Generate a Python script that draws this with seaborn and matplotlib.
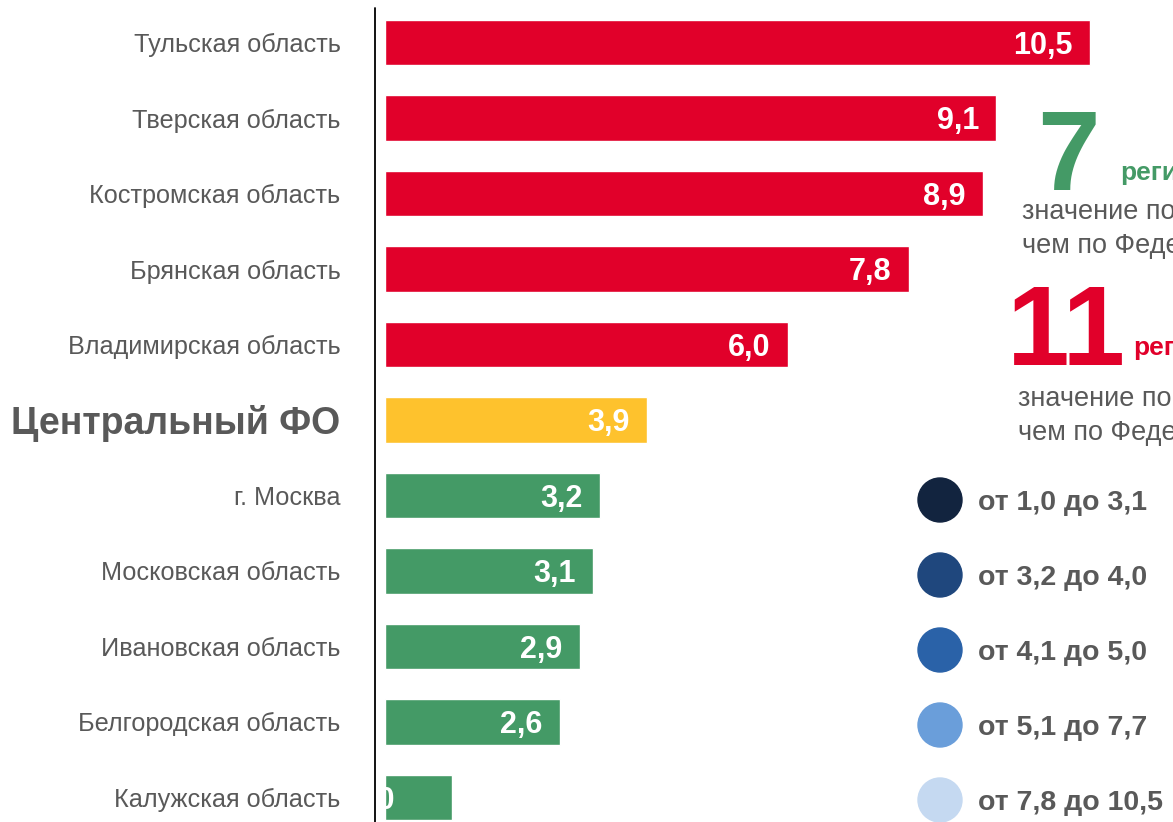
import matplotlib.pyplot as plt
import matplotlib.transforms as mtransforms
from matplotlib.lines import Line2D
from matplotlib.patches import Ellipse
import seaborn as sns
import pandas as pd

# ---- данные ----
regions = ["Тульская область", "Тверская область", "Костромская область",
           "Брянская область", "Владимирская область", "Центральный ФО",
           "г. Москва", "Московская область", "Ивановская область",
           "Белгородская область", "Калужская область"]
values = [10.5, 9.1, 8.9, 7.8, 6.0, 3.9, 3.2, 3.1, 2.9, 2.6, 1.0]
district = "Центральный ФО"

# число регионов ниже / выше значения по ФО (по всем регионам округа)
n_below = 7
n_above = 11

legend_labels = ["от 1,0 до 3,1", "от 3,2 до 4,0", "от 4,1 до 5,0",
                 "от 5,1 до 7,7", "от 7,8 до 10,5"]
legend_colors = ["#12243F", "#1F477D", "#2A62A8", "#6A9EDA", "#C5D9F1"]

RED, YELLOW, GREEN, GREY = "#E1002A", "#FEC22D", "#449A66", "#595959"

df = pd.DataFrame({"region": regions, "value": values})
cfo_val = df.loc[df.region == district, "value"].iloc[0]
bar_colors = [YELLOW if r == district else (RED if v > cfo_val else GREEN)
              for r, v in zip(regions, values)]

# ---- рисунок ----
sns.set_theme(style="white")
plt.rcParams["font.family"] = ["Liberation Sans", "DejaVu Sans"]

W, H = 1173, 822
fig = plt.figure(figsize=(W / 100, H / 100), dpi=100)
ax = fig.add_axes([385 / W, 0, 1 - 385 / W, 1 - 8 / H])

sns.barplot(data=df, x="value", y="region", hue="region", palette=bar_colors,
            legend=False, width=0.6, saturation=1, ax=ax)

ax.set_xlim(0, (W - 385) / (705 / 10.5))
ax.set_ylim(10.325, -0.457)
ax.set_xlabel("")
ax.set_ylabel("")
ax.set_xticks([])
for s in ax.spines.values():
    s.set_visible(False)
ax.tick_params(axis="y", length=0, pad=32, labelsize=18.2, labelcolor=GREY)
for lbl in ax.get_yticklabels():
    if lbl.get_text() == district:
        lbl.set_fontweight("bold")
        lbl.set_fontsize(27)

# вертикальная линия оси
fig.add_artist(Line2D([375 / W, 375 / W], [0, 1 - 8 / H], color="black", lw=1.3))

# подписи значений
for i, v in enumerate(values):
    txt = f"{v:.1f}".replace(".", ",")
    if i == len(values) - 1:
        tr = mtransforms.offset_copy(ax.transData, fig=fig, x=10, y=0, units="dots")
        xpos = 0
    else:
        tr = mtransforms.offset_copy(ax.transData, fig=fig, x=-17, y=0, units="dots")
        xpos = v
    ax.text(xpos, i, txt, transform=tr, ha="right", va="center_baseline",
            color="white", fontsize=22, fontweight="bold", clip_on=True)


def px(x, y):
    return x / W, 1 - y / H


# блок справа
fig.text(*px(1037, 190), str(n_below), color=GREEN, fontsize=81, fontweight="bold",
         ha="left", va="baseline")
fig.text(*px(1120, 180), "регионов", color=GREEN, fontsize=19, fontweight="bold",
         ha="left", va="baseline")
fig.text(*px(1022, 209), "значение показателя ниже,", color=GREY, fontsize=19.5,
         ha="left", va="center_baseline")
fig.text(*px(1022, 243), "чем по Федеральному округу", color=GREY, fontsize=19.5,
         ha="left", va="center_baseline")

fig.text(*px(1007, 365), str(n_above), color=RED, fontsize=81, fontweight="bold",
         ha="left", va="baseline")
fig.text(*px(1133, 355), "регионов", color=RED, fontsize=19, fontweight="bold",
         ha="left", va="baseline")
fig.text(*px(1018, 395), "значение показателя выше,", color=GREY, fontsize=19.5,
         ha="left", va="center_baseline")
fig.text(*px(1018, 430), "чем по Федеральному округу", color=GREY, fontsize=19.5,
         ha="left", va="center_baseline")

# легенда кружками
for k, (lab, col) in enumerate(zip(legend_labels, legend_colors)):
    y = 500 + 75 * k
    fig.add_artist(Ellipse(px(940, y), 44 / W, 44 / H, color=col,
                           transform=fig.transFigure))
    fig.text(*px(978, y), lab, color=GREY, fontsize=20.5, fontweight="bold",
             ha="left", va="center_baseline")

fig.savefig("out.png", dpi=100)
